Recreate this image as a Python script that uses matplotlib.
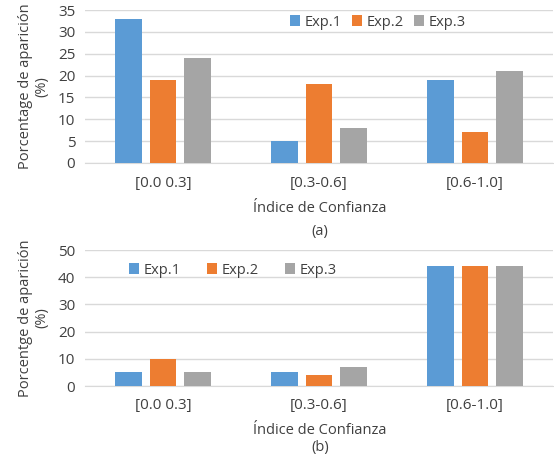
import numpy as np
import matplotlib.pyplot as plt

categories = ['[0.0 0.3]', '[0.3-0.6]', '[0.6-1.0]']
series = ['Exp.1', 'Exp.2', 'Exp.3']
colors = ['#5b9bd5', '#ed7d31', '#a5a5a5']

# panel (a)
top_exp1 = [33, 5, 19]
top_exp2 = [19, 18, 7]
top_exp3 = [24, 8, 21]

# panel (b)
bot_exp1 = [5, 5, 44]
bot_exp2 = [10, 4, 44]
bot_exp3 = [5, 7, 44]

plt.rcParams['font.family'] = ['Open Sans', 'DejaVu Sans']
txt = '#404040'

W, H = 554, 459
fig = plt.figure(figsize=(W / 100, H / 100), dpi=100)


def axes_px(left, top, right, bottom):
    return fig.add_axes([left / W, 1 - bottom / H, (right - left) / W, (bottom - top) / H])


def draw(ax, data, ymax, step, ylabel):
    x = np.arange(len(categories))
    width = 0.173
    offs = [-0.221, 0, 0.221]
    for vals, col, off, name in zip(data, colors, offs, series):
        ax.bar(x + off, vals, width, color=col, label=name, zorder=3)
    ax.set_xlim(-0.5, len(categories) - 0.5)
    ax.set_ylim(0, ymax)
    ax.set_yticks(np.arange(0, ymax + 1, step))
    ax.set_xticks(x)
    ax.set_xticklabels(categories)
    ax.yaxis.grid(True, color='#d9d9d9', linewidth=1, zorder=0)
    for s in ['top', 'right', 'left']:
        ax.spines[s].set_visible(False)
    ax.spines['bottom'].set_color('#d9d9d9')
    ax.tick_params(length=0, labelsize=11, colors=txt, pad=7)
    ax.tick_params(axis='x', pad=9)
    ax.set_ylabel(ylabel, fontsize=10.5, color=txt, linespacing=1.1, labelpad=6)


ax1 = axes_px(85, 10, 553, 163)
draw(ax1, [top_exp1, top_exp2, top_exp3], 35, 5, 'Porcentage de aparición\n(%)')
ax1.legend(loc='center', bbox_to_anchor=(378 / W, 1 - 22 / H), bbox_transform=fig.transFigure,
           ncol=3, frameon=False, fontsize=10.5, handlelength=0.7, handleheight=0.7,
           handletextpad=0.3, columnspacing=0.7, labelcolor=txt)
fig.text(320 / W, 1 - 208 / H, 'Índice de Confianza', ha='center', va='center', fontsize=10.5, color=txt)
fig.text(320 / W, 1 - 232 / H, '(a)', ha='center', va='center', fontsize=10.5, color=txt)

ax2 = axes_px(85, 250, 553, 386)
draw(ax2, [bot_exp1, bot_exp2, bot_exp3], 50, 10, 'Porcentge de aparición\n(%)')
ax2.legend(loc='center', bbox_to_anchor=(233 / W, 1 - 270 / H), bbox_transform=fig.transFigure,
           ncol=3, frameon=False, fontsize=10.5, handlelength=0.7, handleheight=0.7,
           handletextpad=0.3, columnspacing=1.8, labelcolor=txt)
fig.text(320 / W, 1 - 431 / H, 'Índice de Confianza', ha='center', va='center', fontsize=10.5, color=txt)
fig.text(320 / W, 1 - 447 / H, '(b)', ha='center', va='center', fontsize=10.5, color=txt)

fig.savefig('out.png', dpi=100, facecolor='white')
